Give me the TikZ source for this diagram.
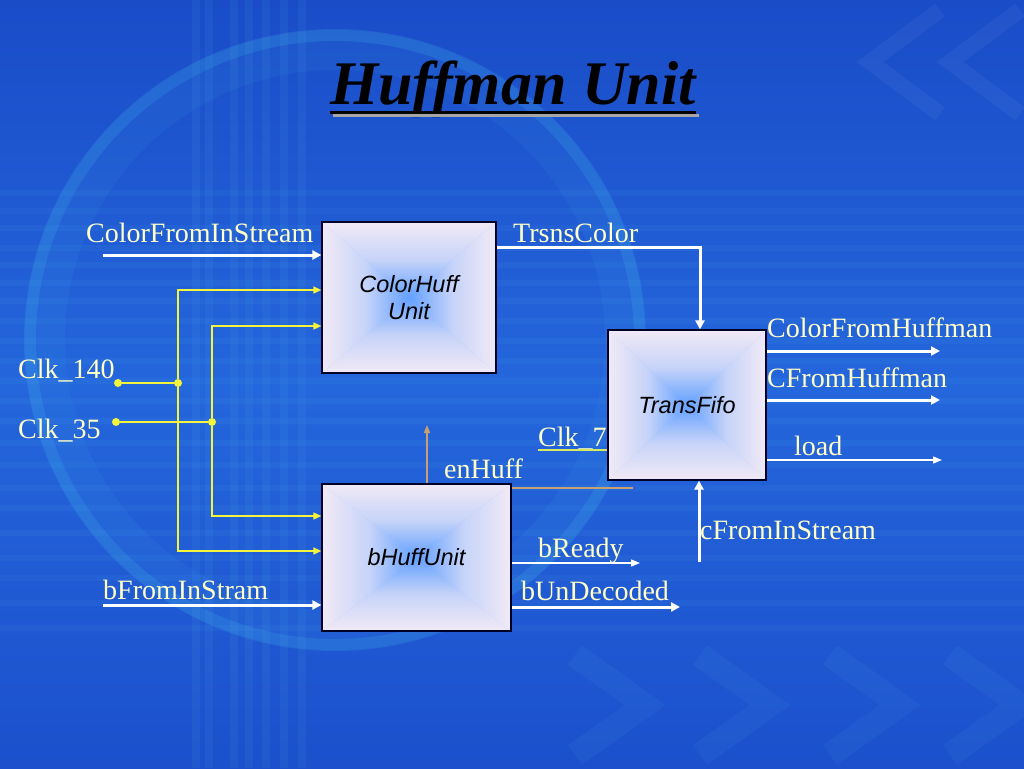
\documentclass[tikz,border=0pt]{standalone}
\usepackage{fontspec}
\setmainfont{Liberation Serif}
\newfontfamily\arialfont{Liberation Sans}
\usetikzlibrary{arrows.meta,calc}
\pgfdeclarelayer{bg}
\pgfdeclarelayer{mid}
\pgfsetlayers{bg,mid,main}
\definecolor{bgA}{HTML}{1A4CC8}
\definecolor{bgB}{HTML}{2466DC}
\definecolor{bgC}{HTML}{1C50CC}
\definecolor{lbl}{HTML}{FFFFC8}
\definecolor{boxedge}{HTML}{F2EAF6}
\definecolor{boxmid}{HTML}{62A0FF}
\definecolor{ylw}{HTML}{F4F43A}
\definecolor{tan}{HTML}{C8A074}
\definecolor{clkg}{HTML}{D8E860}
\colorlet{boxhalf}{boxedge!70!boxmid}
\newcommand{\pyrshade}[1]{%
  \fill[boxedge!45!boxmid] (#1.north west) rectangle (#1.south east);
  \shade[top color=boxedge, bottom color=boxmid, middle color=boxhalf] (#1.north west) -- (#1.north east) -- (#1.center) -- cycle;
  \shade[bottom color=boxedge, top color=boxmid, middle color=boxhalf] (#1.south west) -- (#1.south east) -- (#1.center) -- cycle;
  \shade[left color=boxedge, right color=boxmid, middle color=boxhalf] (#1.north west) -- (#1.south west) -- (#1.center) -- cycle;
  \shade[right color=boxedge, left color=boxmid, middle color=boxhalf] (#1.north east) -- (#1.south east) -- (#1.center) -- cycle;
}
\begin{document}
\begin{tikzpicture}[x=1pt,y=-1pt,
  blk/.style={draw=black!85!blue, line width=1.2pt,
     font=\arialfont\itshape\fontsize{23.5}{27}\selectfont, align=center, text=black},
  lab/.style={text=lbl, font=\fontsize{28}{32}\selectfont, inner sep=0pt, anchor=base west},
  wide/.style={draw=white, line width=3pt, -{Triangle[length=9pt,width=9pt]}},
  thin/.style={draw=white, line width=1.3pt, -{Triangle[length=9pt,width=7pt]}},
  yl/.style={draw=ylw, line width=1.5pt},
  yla/.style={draw=ylw, line width=1.5pt, -{Triangle[length=8pt,width=7pt]}},
  dot/.style={circle, fill=ylw, inner sep=0pt, minimum size=8pt}]
\useasboundingbox (0,0) rectangle (1024,768);
% background
\begin{pgfonlayer}{bg}
\shade[top color=bgA, bottom color=bgC, middle color=bgB] (0,0) rectangle (1024,768);
\begin{scope}
\clip (0,0) rectangle (1024,768);
\draw[cyan!70!white, opacity=0.16, line width=12pt] (335,340) circle (305);
\draw[cyan!70!white, opacity=0.07, line width=40pt] (335,340) circle (290);
\foreach \xx in {192,205,230,245,262,280,298} \fill[cyan!60!white, opacity=0.07] (\xx,0) rectangle ++(8,768);
\foreach \yy in {190,208,225,245,262,280,298,318,338,358,378,398,418,440,462,485,505,530,555,575,600,625} \fill[cyan!60!white, opacity=0.06] (0,\yy) rectangle ++(1024,6);
% chevrons
\draw[white, opacity=0.045, line width=16pt] (940,10) -- (870,62) -- (940,114);
\draw[white, opacity=0.045, line width=16pt] (1020,10) -- (950,62) -- (1020,114);
\foreach \xx in {575,700,830,950} \draw[cyan!60!white, opacity=0.06, line width=24pt] (\xx,655) -- (\xx+70,705) -- (\xx,755);
\end{scope}
\end{pgfonlayer}
% title
\node[text=black, font=\bfseries\itshape\fontsize{62}{68}\selectfont, inner sep=0pt, anchor=base] (title) at (513,104) {Huffman Unit};
\draw[black!35, line width=3pt] ($(title.base west)+(3,11)$) -- ($(title.base east)+(3,11)$);
\draw[black, line width=3pt] ($(title.base west)+(0,8)$) -- ($(title.base east)+(0,8)$);
% blocks
\node[blk, minimum width=174pt, minimum height=151pt] (ch) at (409,297.5) {ColorHuff\\Unit};
\node[blk, minimum width=158pt, minimum height=150pt] (tf) at (687,405) {TransFifo};
\node[blk, minimum width=189pt, minimum height=147pt] (bh) at (416.5,557.5) {bHuffUnit};
\begin{pgfonlayer}{mid}
\pyrshade{ch}
\pyrshade{tf}
\pyrshade{bh}
\end{pgfonlayer}
% labels
\node[lab] (l1) at (86,242) {ColorFromInStream};
\node[lab] (l2) at (513,242) {TrsnsColor};
\node[lab] (l3) at (18,378) {Clk\_140};
\node[lab] (l4) at (18,438) {Clk\_35};
\node[lab] (l5) at (538,446) {Clk\_7};
\node[lab] (l6) at (444,478) {enHuff};
\node[lab] (l7) at (767,337) {ColorFromHuffman};
\node[lab] (l8) at (767,387) {CFromHuffman};
\node[lab] (l9) at (794,455) {load};
\node[lab] (l10) at (700,539) {cFromInStream};
\node[lab] (l11) at (538,557) {bReady};
\node[lab] (l12) at (521,600) {bUnDecoded};
\node[lab] (l13) at (103,599) {bFromInStram};
% coordinates
\coordinate (ci1) at (103,255);
\coordinate (tc) at (700,247);
\coordinate (k140) at (118,383);
\coordinate (j140) at (178,383);
\coordinate (k35) at (116,422);
\coordinate (j35) at (212,422);
\coordinate (bi) at (103,605);
\coordinate (enU) at (427,425);
\coordinate (enR) at (633,488);
\coordinate (o1) at (940,351);
\coordinate (o2) at (940,400);
\coordinate (o3) at (942,460);
\coordinate (cin) at (699,562);
\coordinate (br) at (640,563);
\coordinate (bu) at (680,607);
% white connectors
\draw[wide] (ci1) -- (ch.west |- ci1);
\draw[wide] (ch.east |- 0,247) -- (tc) -- (tc |- tf.north);
\draw[wide] (bi) -- (bh.west |- bi);
\draw[wide] (tf.east |- o1) -- (o1);
\draw[wide] (tf.east |- o2) -- (o2);
\draw[thin] (tf.east |- o3) -- (o3);
\draw[wide] (cin) -- (cin |- tf.south);
\draw[thin] (bh.east |- br) -- (br);
\draw[wide] (bh.east |- bu) -- (bu);
% yellow clock lines
\node[dot] (d140) at (k140) {};
\node[dot] (d140j) at (j140) {};
\node[dot] (d35) at (k35) {};
\node[dot] (d35j) at (j35) {};
\draw[yl] (d140) -- (d140j);
\draw[yl] (d35) -- (d35j);
\draw[yla] (d140j) -- (178,290) -- (ch.west |- 0,290);
\draw[yla] (d140j) -- (178,551) -- (bh.west |- 0,551);
\draw[yla] (d35j) -- (212,326) -- (ch.west |- 0,326);
\draw[yla] (d35j) -- (212,516) -- (bh.west |- 0,516);
% Clk_7 underline
\draw[clkg, line width=1.5pt] ($(l5.base west)+(0,4)$) -- (tf.west |- 0,450);
% enHuff
\draw[tan, line width=1.3pt, -{Triangle[length=8pt,width=6pt]}] (bh.north -| enU) -- (enU);
\draw[tan, line width=1.3pt] (bh.north east |- enR) -- (enR);
\end{tikzpicture}
\end{document}
